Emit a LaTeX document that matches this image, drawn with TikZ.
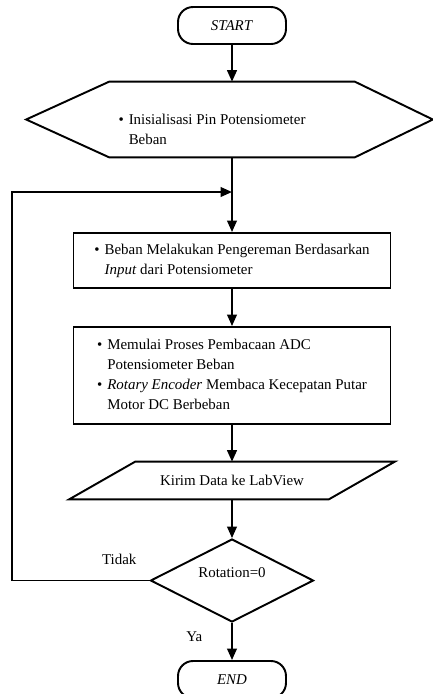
\documentclass[tikz,border=0pt]{standalone}
\usepackage{fontspec}
\setmainfont{Liberation Serif}
\usetikzlibrary{arrows.meta,calc,shapes.geometric}
\tikzset{term/.style={draw, line width=1.1pt, rounded corners=0.3cm, minimum width=2.16cm, minimum height=0.74cm},
  proc/.style={draw, line width=1.1pt, minimum width=6.34cm},
  pin/.style={-{Triangle[length=6.5pt,width=5.5pt]}, line width=1.1pt},
  edge/.style={line width=1.1pt}}
\newcommand{\bul}{\textbullet}

\begin{document}
\begin{tikzpicture}[x=0.02cm, y=-0.02cm, font=\fontsize{8.5}{11.4}\selectfont]
  \useasboundingbox (0,0) rectangle (433,694);
  \node[term] (start) at (232,25.5)  {\textit{START}};
  \node[minimum width=4.9cm, minimum height=1.5cm, text height=16.3pt, text depth=0pt] (init) at (232,119.5)
    {\begin{tabular}{@{}l@{\hspace{0.1cm}}l@{}}\bul & Inisialisasi Pin Potensiometer\\ & Beban\end{tabular}\kern0.8cm};
  \node[proc, minimum height=1.1cm] (brk) at (232,260.5)
    {\begin{tabular}{@{}l@{\hspace{0.1cm}}l@{}}\bul & Beban Melakukan Pengereman Berdasarkan\\ & \textit{Input} dari Potensiometer\end{tabular}};
  \node[proc, minimum height=1.94cm] (adc) at (232,375.5)
    {\begin{tabular}{@{}l@{\hspace{0.1cm}}l@{}}\bul & Memulai Proses Pembacaan ADC\\ & Potensiometer Beban\\
     \bul & \textit{Rotary Encoder} Membaca Kecepatan Putar\\ & Motor DC Berbeban\end{tabular}};
  \node[minimum width=5.18cm, minimum height=0.74cm] (send) at (232,480.5) {Kirim Data ke LabView};
  \node[draw, diamond, line width=1.1pt, aspect=2, inner sep=1pt, minimum width=3.26cm, minimum height=1.66cm,
    text height=6pt, text depth=9.4pt] (chk) at (232,580.5) {Rotation=0};
  \node[term] (fin) at (232,679.5) {\textit{END}};
  \coordinate (merge) at (232,192);
  % outlines drawn round the plain nodes
  \draw[edge] (init.north west) -- (init.north east) -- ($(init.east)+(78,0)$) -- (init.south east)
    -- (init.south west) -- ($(init.west)+(-83,0)$) -- cycle;
  \draw[edge] ($(send.north west)+(33,0)$) -- ($(send.north east)+(33,0)$) -- ($(send.south east)+(-33,0)$)
    -- ($(send.south west)+(-33,0)$) -- cycle;
  % main flow
  \draw[pin] (start) -- (init);
  \draw[pin] (init) -- (brk);
  \draw[pin] (brk) -- (adc);
  \draw[pin] (adc) -- (send);
  \draw[pin] (send) -- (chk);
  \draw[pin] (chk) -- node[pos=0.36, left=0.46cm]{Ya} (fin);
  % loop back
  \draw[pin] (chk.west) -- node[pos=0.22, above=0.19cm]{Tidak} ++(-138,0) |- (merge);
\end{tikzpicture}
\end{document}
